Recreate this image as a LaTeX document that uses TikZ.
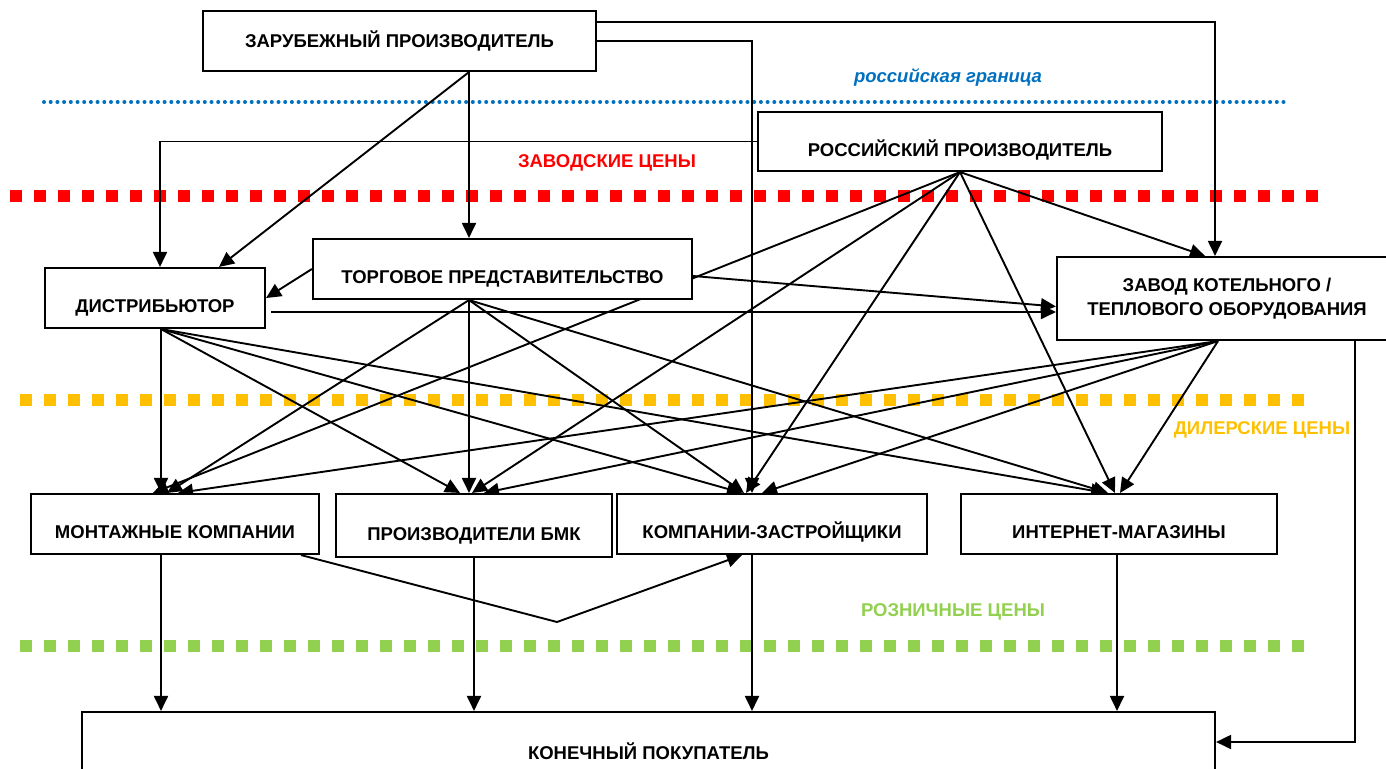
\documentclass[tikz,border=0pt]{standalone}
\usepackage{fontspec}
\setmainfont{Liberation Sans}
\usetikzlibrary{arrows.meta,backgrounds}

\definecolor{granblue}{HTML}{0070C0}
\definecolor{zavred}{HTML}{FF0000}
\definecolor{dilyellow}{HTML}{FFC000}
\definecolor{rozgreen}{HTML}{92D050}

\tikzset{
    box/.style={draw, fill=white, line width=2.1pt, inner sep=0pt,
        font=\bfseries\fontsize{18.5}{24}\selectfont},
    low/.style={text height=29pt, text depth=0pt},
    conn/.style={line width=1.9pt, -{Triangle[length=15pt,width=14pt]}},
    price/.style={font=\bfseries\fontsize{18.5}{22}\selectfont},
    divider/.style={line width=12pt, dash pattern=on 12pt off 12pt},
}

\begin{document}
\begin{tikzpicture}[x=1pt,y=-1pt]
\useasboundingbox (0,0) rectangle (1386,768);

% boxes
\node[box, minimum width=393pt, minimum height=60pt] (zp) at (399.5,41) {ЗАРУБЕЖНЫЙ ПРОИЗВОДИТЕЛЬ};
\node[box, low, minimum width=404pt, minimum height=59pt] (rp) at (960,141.5) {РОССИЙСКИЙ ПРОИЗВОДИТЕЛЬ};
\node[box, low, minimum width=379pt, minimum height=60pt] (tp) at (502.5,269) {ТОРГОВОЕ ПРЕДСТАВИТЕЛЬСТВО};
\node[box, low, minimum width=220pt, minimum height=60pt] (dist) at (155,298) {ДИСТРИБЬЮТОР};
\node[box, align=center, minimum width=340pt, minimum height=83pt] (zavod) at (1227,298.5) {ЗАВОД КОТЕЛЬНОГО /\\ТЕПЛОВОГО ОБОРУДОВАНИЯ};
\node[box, low, minimum width=288pt, minimum height=60pt] (mont) at (175,524) {МОНТАЖНЫЕ КОМПАНИИ};
\node[box, low, minimum width=276pt, minimum height=63pt] (bmk) at (474,525.5) {ПРОИЗВОДИТЕЛИ БМК};
\node[box, low, minimum width=310pt, minimum height=60pt] (zastr) at (772,524) {КОМПАНИИ-ЗАСТРОЙЩИКИ};
\node[box, low, minimum width=316pt, minimum height=60pt] (inet) at (1119,524) {ИНТЕРНЕТ-МАГАЗИНЫ};
\node[box, minimum width=1133pt, minimum height=78pt] (pokup) at (648.5,751) {КОНЕЧНЫЙ ПОКУПАТЕЛЬ};

% price levels
\node[font=\bfseries\itshape\fontsize{18.5}{22}\selectfont, text=granblue] (granlbl) at (948,77) {российская граница};
\node[price, text=zavred] (zavlbl) at (607,163) {ЗАВОДСКИЕ ЦЕНЫ};
\node[price, text=dilyellow] (dillbl) at (1262,430) {ДИЛЕРСКИЕ ЦЕНЫ};
\node[price, text=rozgreen] (rozlbl) at (953,612) {РОЗНИЧНЫЕ ЦЕНЫ};

\coordinate (zpfan) at ([xshift=69.5pt]zp.south);
\coordinate (tpfan) at ([xshift=-33.5pt]tp.south);
\coordinate (distfan) at ([xshift=6pt]dist.south);
\coordinate (zavfan) at ([xshift=-9pt]zavod.south);
\coordinate (dip) at (557,622);

\begin{scope}[on background layer]
\draw[granblue, line width=4pt, line cap=round, dash pattern=on 0pt off 6.7pt] (44,102) -- (1290,102);
\draw[divider, zavred] (10,196) -- (1322,196);
\draw[divider, dilyellow] (20,400) -- (1307,400);
\draw[divider, rozgreen] (20,646) -- (1307,646);

% foreign producer
\draw[conn] (zpfan) -- ([xshift=64pt]dist.north);
\draw[conn] (zpfan) -- (tp.north -| zpfan);
\draw[conn] ([yshift=19pt]zp.east) -| ([xshift=-12pt]zavod.north);
\draw[conn] (zp.east) -| ([xshift=-20pt]zastr.north);

% russian producer
\draw[conn] (rp.west) -| ([xshift=5pt]dist.north);
\draw[conn] (rp.south) -- ([xshift=-22pt]zavod.north);
\draw[conn] (rp.south) -- ([xshift=-22pt]mont.north);
\draw[conn] (rp.south) -- ([xshift=-2pt]bmk.north);
\draw[conn] (rp.south) -- ([xshift=-26pt]zastr.north);
\draw[conn] (rp.south) -- ([xshift=-4pt]inet.north);

% trade office
\draw[conn] (tp.west) -- (dist.east);
\draw[conn] ([yshift=-7pt]tp.east) -- ([yshift=-8pt]zavod.west);
\draw[conn] (tpfan) -- ([xshift=-8pt]mont.north);
\draw[conn] (tpfan) -- (bmk.north -| tpfan);
\draw[conn] (tpfan) -- ([xshift=-28pt]zastr.north);
\draw[conn] (tpfan) -- ([xshift=-11pt]inet.north);

% distributor
\draw[conn] ([xshift=5pt,yshift=-14pt]dist.east) -- ([yshift=-13.5pt]zavod.west);
\draw[conn] (distfan) -- (mont.north -| distfan);
\draw[conn] (distfan) -- ([xshift=-14pt]bmk.north);
\draw[conn] (distfan) -- ([xshift=-30pt]zastr.north);
\draw[conn] (distfan) -- ([xshift=-13pt]inet.north);

% boiler plant
\draw[conn] (zavfan) -- ([xshift=3pt]mont.north);
\draw[conn] (zavfan) -- ([xshift=10pt]bmk.north);
\draw[conn] (zavfan) -- ([xshift=-10pt]zastr.north);
\draw[conn] (zavfan) -- ([xshift=1pt]inet.north);
\draw[conn] ([xshift=128pt]zavod.south) |- ([yshift=9pt]pokup.east);

% to the end buyer
\foreach \src/\dx in {mont/-14, bmk/0, zastr/-20, inet/-2}{
    \coordinate (top) at ([xshift=\dx pt]\src.south);
    \draw[conn] (top) -- (top |- pokup.north);
}
\draw[conn] ([xshift=126pt]mont.south) -- (dip) -- ([xshift=-30pt]zastr.south);
\end{scope}
\end{tikzpicture}
\end{document}
